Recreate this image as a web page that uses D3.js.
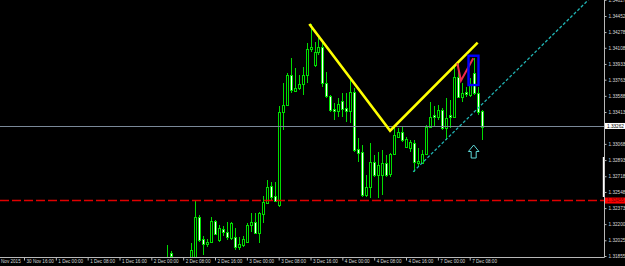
<!DOCTYPE html>
<html><head><meta charset="utf-8">
<script src="https://cdn.jsdelivr.net/npm/d3@7"></script>
<style>html,body{margin:0;padding:0;background:#000;}svg{display:block;}</style>
</head><body>
<svg id="c" width="625" height="266"></svg>
<script>
// ---- data (H1 candles, bar index 0 = 30 Nov 16:00) ----
const firstBar = 36;
const open  = [1.31790,1.31887,1.31800,1.31720,1.31680,1.31760,1.31790,1.31812,1.32277,1.32039,1.31985,1.32006,1.32234,1.32028,1.32147,1.32115,1.32050,1.32060,1.31952,1.31974,1.32006,1.32190,1.32223,1.32104,1.32309,1.32428,1.32612,1.32504,1.32407,1.33413,1.33489,1.33813,1.33640,1.33673,1.33716,1.33813,1.34095,1.33922,1.34062,1.34116,1.33727,1.33586,1.33446,1.33424,1.33532,1.33456,1.33424,1.33630,1.33013,1.32980,1.32515,1.32602,1.32872,1.32731,1.32731,1.32861,1.32742,1.32959,1.33143,1.33197,1.33034,1.33023,1.33078,1.32861,1.32861,1.32959,1.33251,1.33381,1.33359,1.33435,1.33240,1.33381,1.33359,1.33792,1.33575,1.33630,1.33597,1.33835,1.33619,1.33424];
const high  = [1.31974,1.31909,1.31830,1.31760,1.31780,1.31820,1.31996,1.32461,1.32299,1.32071,1.32039,1.32277,1.32244,1.32190,1.32180,1.32223,1.32223,1.32158,1.32060,1.32071,1.32212,1.32320,1.32320,1.32331,1.32504,1.32677,1.32656,1.32656,1.33478,1.33727,1.33835,1.33997,1.33889,1.33813,1.33900,1.34160,1.34365,1.34171,1.34214,1.34192,1.33846,1.33597,1.33510,1.33565,1.33619,1.33619,1.33759,1.33673,1.33132,1.33056,1.32731,1.33078,1.32948,1.32980,1.33002,1.32948,1.32969,1.33251,1.33240,1.33251,1.33143,1.33110,1.33110,1.33023,1.33002,1.33272,1.33521,1.33478,1.33489,1.33456,1.33565,1.33543,1.33900,1.33943,1.33727,1.33684,1.33781,1.33997,1.33684,1.33435];
const low   = [1.31747,1.31812,1.31700,1.31640,1.31650,1.31720,1.31768,1.31779,1.32006,1.31866,1.31952,1.31996,1.32082,1.32006,1.32071,1.32028,1.32028,1.31920,1.31920,1.31952,1.31996,1.32115,1.32093,1.31996,1.32212,1.32418,1.32461,1.32439,1.32385,1.33218,1.33478,1.33619,1.33630,1.33651,1.33597,1.33727,1.34062,1.33900,1.34030,1.33684,1.33565,1.33413,1.33326,1.33359,1.33359,1.33305,1.33294,1.32980,1.32872,1.32493,1.32493,1.32482,1.32710,1.32482,1.32515,1.32710,1.32710,1.32948,1.33132,1.33088,1.33023,1.32980,1.32764,1.32818,1.32850,1.32948,1.33240,1.33251,1.33326,1.33218,1.33110,1.33240,1.33348,1.33565,1.33521,1.33575,1.33575,1.33597,1.33381,1.33110];
const close = [1.31844,1.31855,1.31720,1.31680,1.31760,1.31790,1.31920,1.32277,1.32028,1.31985,1.32006,1.32234,1.32093,1.32158,1.32115,1.32060,1.32212,1.31952,1.31985,1.32039,1.32190,1.32223,1.32104,1.32320,1.32439,1.32602,1.32493,1.32450,1.33413,1.33489,1.33813,1.33651,1.33673,1.33716,1.33813,1.34095,1.34116,1.34062,1.34116,1.33727,1.33586,1.33435,1.33424,1.33500,1.33446,1.33424,1.33630,1.33002,1.32969,1.32515,1.32602,1.32872,1.32731,1.32840,1.32861,1.32731,1.32959,1.33164,1.33197,1.33110,1.33121,1.33088,1.32872,1.32883,1.32959,1.33251,1.33359,1.33359,1.33435,1.33240,1.33348,1.33359,1.33792,1.33575,1.33619,1.33608,1.33705,1.33619,1.33413,1.33251];

const priceTicks = [1.34627,1.34452,1.34278,1.34108,1.33933,1.33763,1.33588,1.33413,1.33068,1.32893,1.32718,1.32548,1.32373,1.32200,1.32025,1.31855];
const timeTickBars = [-8,0,8,16,24,32,40,48,56,64,72,80,88,96,104,112];
const timeTickLabels = ["30 Nov 2015","30 Nov 16:00","1 Dec 00:00","1 Dec 08:00","1 Dec 16:00","2 Dec 00:00","2 Dec 08:00","2 Dec 16:00","3 Dec 00:00","3 Dec 08:00","3 Dec 16:00","4 Dec 00:00","4 Dec 08:00","4 Dec 16:00","7 Dec 00:00","7 Dec 08:00"];

const bidPrice = 1.33262;
const levelPrice = 1.32455;
// drawn objects: [bar, price]
const yellowZigzag = [[71.7,1.34365],[92.0,1.33211],[114.0,1.34163]];
const redZigzag = [[108.9,1.33940],[109.8,1.33752],[112.9,1.33994]];
const blueBox = [[111.7,1.34022],[114.2,1.33705]];
const cyanChannel = [[97.8,1.32767],[141.8,1.34625]];
const arrowMark = [113.0,1.33056];

// ---- layout ----
const W = 625, H = 266, plotR = 604, plotB = 257;
const svg = d3.select("#c");
svg.append("rect").attr("width",W).attr("height",H).attr("fill","#000");

const x = d3.scaleLinear().domain([0,112]).range([24,469.7]);
const y = d3.scaleLinear().domain([1.31855,1.34452]).range([256,16]);

svg.append("clipPath").attr("id","plot").append("rect").attr("x",0).attr("y",0).attr("width",plotR).attr("height",plotB);
const g = svg.append("g").attr("clip-path","url(#plot)");

const green = "#00dd00";
const candles = open.map((o,j)=>({i:firstBar+j,o,h:high[j],l:low[j],c:close[j]}));
const cg = g.append("g");
candles.forEach(d=>{
  const cx = Math.round(x(d.i));
  cg.append("line").attr("x1",cx+0.5).attr("x2",cx+0.5)
    .attr("y1",Math.round(y(d.h))).attr("y2",Math.round(y(d.l)))
    .attr("stroke",green).attr("stroke-width",1);
  const top = Math.round(y(Math.max(d.o,d.c))), bot = Math.round(y(Math.min(d.o,d.c)));
  cg.append("rect").attr("x",cx-0.5).attr("y",top+0.5).attr("width",2).attr("height",Math.max(bot-top,0.01))
    .attr("fill", d.c < d.o ? "#ffffff" : "#000000").attr("stroke",green).attr("stroke-width",1);
});

// bid line
g.append("line").attr("x1",0).attr("x2",plotR).attr("y1",Math.round(y(bidPrice))+0.5).attr("y2",Math.round(y(bidPrice))+0.5)
  .attr("stroke","#7a8898").attr("stroke-width",1);
// red level
g.append("line").attr("x1",0).attr("x2",plotR).attr("y1",y(levelPrice)).attr("y2",y(levelPrice))
  .attr("stroke","#e00000").attr("stroke-width",1.6).attr("stroke-dasharray","9,3");

const line = d3.line().x(d=>x(d[0])).y(d=>y(d[1]));
g.append("path").attr("d",line(cyanChannel)).attr("fill","none").attr("stroke","#20b4b4").attr("stroke-width",1.3).attr("stroke-dasharray","3,2");
g.append("path").attr("d",line(yellowZigzag)).attr("fill","none").attr("stroke","#ffff00").attr("stroke-width",2.6);
g.append("path").attr("d",line(redZigzag)).attr("fill","none").attr("stroke","#f0284c").attr("stroke-width",2);
g.append("rect").attr("x",x(blueBox[0][0])).attr("y",y(blueBox[0][1]))
  .attr("width",x(blueBox[1][0])-x(blueBox[0][0])).attr("height",y(blueBox[1][1])-y(blueBox[0][1]))
  .attr("fill","none").attr("stroke","#0000ff").attr("stroke-width",2.4);
// arrow
const ax = x(arrowMark[0]), ay = y(arrowMark[1]);
g.append("path").attr("d",`M${ax},${ay} L${ax-5.3},${ay+6.5} L${ax-2.5},${ay+6.5} L${ax-2.5},${ay+13} L${ax+2.5},${ay+13} L${ax+2.5},${ay+6.5} L${ax+5.3},${ay+6.5} Z`)
  .attr("fill","none").attr("stroke","#5fd8d8").attr("stroke-width",1);

// axes
const axisCol = "#b8b8b8", txtCol = "#d8d8d8";
svg.append("line").attr("x1",plotR+0.5).attr("x2",plotR+0.5).attr("y1",0).attr("y2",plotB+0.5).attr("stroke",axisCol);
svg.append("line").attr("x1",0).attr("x2",plotR+0.5).attr("y1",plotB+0.5).attr("y2",plotB+0.5).attr("stroke",axisCol);
svg.append("line").attr("x1",603.5).attr("x2",603.5).attr("y1",157).attr("y2",197).attr("stroke","#ffffff").attr("stroke-width",1.4);

const fontR = "4.7px 'Liberation Sans', Arial, sans-serif";
const ya = svg.append("g").attr("transform",`translate(${plotR+0.5},0)`)
  .call(d3.axisRight(y).tickValues(priceTicks).tickFormat(d3.format(".5f")).tickSize(2).tickPadding(2));
ya.select(".domain").remove();
ya.selectAll("line").attr("stroke",axisCol);
ya.selectAll("text").attr("fill",txtCol).style("font",fontR);

const xa = svg.append("g").attr("transform",`translate(0,${plotB+0.5})`)
  .call(d3.axisBottom(x).tickValues(timeTickBars).tickFormat((d,i)=>timeTickLabels[i]).tickSize(3));
xa.select(".domain").remove();
xa.selectAll("line").attr("stroke",axisCol);
xa.selectAll("text").attr("fill",txtCol).attr("text-anchor","start").attr("dx",2).attr("y",2).attr("dy","0.71em")
  .style("font","4.6px 'Liberation Sans', Arial, sans-serif");

// price labels
function priceBox(p,bg,fg){
  const cy = y(p);
  svg.append("rect").attr("x",plotR+1).attr("y",cy-3).attr("width",W-plotR-1).attr("height",6).attr("fill",bg);
  svg.append("text").attr("x",plotR+3).attr("y",cy).attr("dy","0.35em").attr("fill",fg)
    .style("font",fontR).text(d3.format(".5f")(p));
}
priceBox(levelPrice,"#ff0000","#700000");
priceBox(bidPrice,"#ffffff","#000000");
</script>
</body></html>
